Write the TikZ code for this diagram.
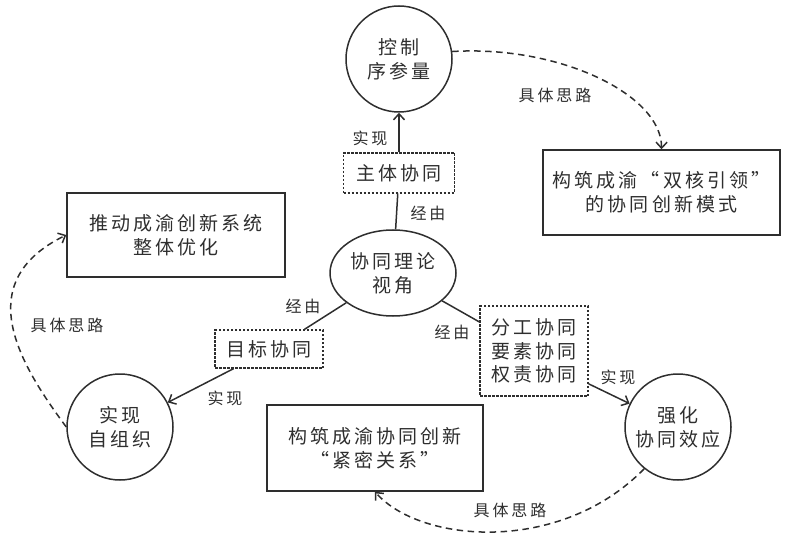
\documentclass[tikz,border=0pt]{standalone}
\usepackage{fontspec}
\usetikzlibrary{arrows.meta,shapes.geometric}
\newfontfamily\cjkbox[LetterSpace=16]{Noto Sans CJK SC}
\newfontfamily\cjklab[LetterSpace=18]{Noto Sans CJK SC}
\definecolor{ink}{HTML}{2E2E2E}
\begin{document}
\begin{tikzpicture}[x=1pt,y=-1pt,
  base/.style={draw=ink, line width=1.5pt, text=ink, font=\cjkbox\fontsize{19}{24}\selectfont, align=center, inner sep=0pt},
  circ/.style={base, circle, minimum size=106pt},
  sbox/.style={base, rectangle},
  dbox/.style={base, rectangle, line width=1.3pt, dash pattern=on 2.5pt off 1.5pt},
  oval/.style={base, ellipse, minimum width=126pt, minimum height=86pt},
  lab/.style={text=ink, font=\cjklab\fontsize{16}{18}\selectfont, inner sep=0pt},
  link/.style={draw=ink, line width=1.5pt},
  arr/.style={link, -{Straight Barb[length=6pt,width=11pt,line width=1.5pt]}},
  darr/.style={arr, dash pattern=on 6.5pt off 4.5pt}]
\useasboundingbox (0,0) rectangle (786,534);
\node[circ] (kz) at (399,59) {控制\\序参量};
\node[dbox, minimum width=111pt, minimum height=40pt] (zt) at (399,173) {主体协同};
\node[oval] (xt) at (393,273) {协同理论\\视角};
\node[sbox, minimum width=237pt, minimum height=85pt] (sh) at (661.5,192.5) {构筑成渝“双核引领”\\的协同创新模式};
\node[sbox, minimum width=218pt, minimum height=84pt] (tc) at (176,235) {推动成渝创新系统\\整体优化};
\node[circ] (zz) at (120,427) {实现\\自组织};
\node[dbox, minimum width=108pt, minimum height=38pt] (mb) at (269,349) {目标协同};
\node[dbox, minimum width=108pt, minimum height=90pt, font=\cjkbox\fontsize{19}{23.5}\selectfont] (fg) at (534,351) {分工协同\\要素协同\\权责协同};
\node[circ] (qh) at (678,427) {强化\\协同效应};
\node[sbox, minimum width=216pt, minimum height=86pt] (gz) at (375,448) {构筑成渝协同创新\\“紧密关系”};
% connectors
\draw[arr] (zt) -- (kz);
\draw[link] (xt) -- (zt);
\draw[link] (xt) -- (mb.29);
\draw[arr] (mb.209) -- (zz);
\draw[link] (xt) -- (fg.152);
\draw[arr] (fg.-31) -- (qh);
\draw[darr] (kz.8) .. controls (560,45) and (662,95) .. (sh.north);
\draw[darr] (zz.west) .. controls (22,367) and (-32,283) .. (tc.west);
\draw[darr] (qh.231) .. controls (560,555) and (420,543) .. (gz.south);
% labels
\node[lab] (l1) at (370,138) {实现};
\node[lab] (l2) at (428,213) {经由};
\node[lab] (l3) at (555,95) {具体思路};
\node[lab] (l4) at (67,325) {具体思路};
\node[lab] (l5) at (303,306) {经由};
\node[lab] (l6) at (225,398) {实现};
\node[lab] (l7) at (452,332) {经由};
\node[lab] (l8) at (618,377) {实现};
\node[lab] (l9) at (510,510) {具体思路};
\end{tikzpicture}
\end{document}
